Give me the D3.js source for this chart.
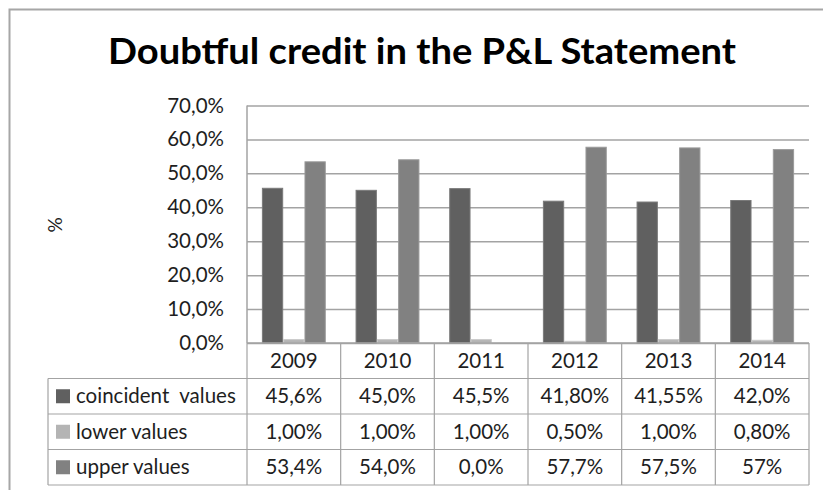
<!DOCTYPE html>
<html>
<head>
<meta charset="utf-8">
<script src="https://cdn.jsdelivr.net/npm/d3@7"></script>
<style>
  body { margin: 0; background: #fff; }
  text { font-family: Lato, "Open Sans", sans-serif; fill: #1e1e1e; }
</style>
</head>
<body>
<div id="chart"></div>
<script>
const years = ['2009', '2010', '2011', '2012', '2013', '2014'];
const seriesNames = ['coincident  values', 'lower values', 'upper values'];
const coincident = [45.6, 45.0, 45.5, 41.8, 41.55, 42.0];
const lower = [1.0, 1.0, 1.0, 0.5, 1.0, 0.8];
const upper = [53.4, 54.0, 0.0, 57.7, 57.5, 57.0];
const coincidentLabels = ['45,6%', '45,0%', '45,5%', '41,80%', '41,55%', '42,0%'];
const lowerLabels = ['1,00%', '1,00%', '1,00%', '0,50%', '1,00%', '0,80%'];
const upperLabels = ['53,4%', '54,0%', '0,0%', '57,7%', '57,5%', '57%'];
const yTicks = [0, 10, 20, 30, 40, 50, 60, 70];

const colors = ['#606060', '#b4b4b4', '#818181'];
const strokes = ['#7a7a7a', '#cacaca', '#9a9a9a'];

const width = 823;
const height = 490;
const plot = { left: 247, right: 809, top: 105.5, bottom: 343 };
const rowH = 35.5;
const tableLeft = 48;
const fontSize = 20.5;

const svg = d3.select('#chart')
  .append('svg')
  .attr('width', width)
  .attr('height', height);

// outer frame
svg.append('path')
  .attr('d', `M9.5,${height + 2} V9.5 H${width + 2}`)
  .attr('fill', 'none')
  .attr('stroke', '#a6a6a6')
  .attr('stroke-width', 2);

svg.append('text')
  .attr('x', 422)
  .attr('y', 64)
  .attr('text-anchor', 'middle')
  .attr('font-size', 36)
  .attr('font-weight', 'bold')
  .attr('textLength', 628)
  .attr('lengthAdjust', 'spacingAndGlyphs')
  .style('fill', '#000')
  .text('Doubtful credit in the P&L Statement');

const yScale = d3.scaleLinear()
  .domain([0, 70])
  .range([plot.bottom, plot.top]);

const xScale = d3.scaleBand()
  .domain(years)
  .range([plot.left, plot.right]);

const xInner = d3.scaleBand()
  .domain(d3.range(3))
  .range([0, xScale.bandwidth()])
  .paddingOuter(0.7);

// gridlines
svg.append('g')
  .attr('transform', `translate(${plot.left}, 0)`)
  .call(d3.axisLeft(yScale).tickValues(yTicks).tickFormat('').tickSize(-(plot.right - plot.left)))
  .call(g => g.select('.domain').remove())
  .call(g => g.selectAll('line').attr('stroke', '#a3a3a3').attr('stroke-width', 1.5));

// y labels
svg.append('g')
  .attr('transform', `translate(${plot.left}, 0)`)
  .call(d3.axisLeft(yScale).tickValues(yTicks).tickSize(0).tickPadding(23)
    .tickFormat(d => d3.format('.1f')(d).replace('.', ',') + '%'))
  .call(g => g.select('.domain').remove())
  .call(g => g.selectAll('text')
    .attr('font-size', fontSize)
    .attr('font-family', 'Lato, sans-serif')
    .style('fill', '#1e1e1e'));

svg.append('line')
  .attr('x1', plot.left).attr('x2', plot.left)
  .attr('y1', plot.top).attr('y2', plot.bottom)
  .attr('stroke', '#a3a3a3')
  .attr('stroke-width', 1.5);

svg.append('text')
  .attr('transform', 'translate(62, 225) rotate(-90)')
  .attr('text-anchor', 'middle')
  .attr('font-size', 19)
  .text('%');

// bars
const allSeries = [coincident, lower, upper];
const groups = svg.append('g').attr('class', 'bars')
  .selectAll('g')
  .data(years)
  .join('g')
  .attr('transform', d => `translate(${xScale(d)}, 0)`);

groups.selectAll('rect')
  .data((d, i) => allSeries.map((s, k) => ({ k, v: s[i] })))
  .join('rect')
  .attr('x', d => xInner(d.k) + 0.5)
  .attr('width', xInner.bandwidth() - 1)
  .attr('y', d => yScale(d.v))
  .attr('height', d => yScale(0) - yScale(d.v))
  .attr('fill', d => colors[d.k])
  .attr('stroke', d => strokes[d.k])
  .attr('stroke-width', d => d.v > 0 ? 1 : 0);

// data table
const table = svg.append('g').attr('class', 'table');
const gridColor = '#a3a3a3';
const tableTop = plot.bottom;
const tableBottom = tableTop + rowH * 4;

table.append('line')
  .attr('x1', plot.left).attr('x2', plot.right)
  .attr('y1', tableTop).attr('y2', tableTop)
  .attr('stroke', gridColor).attr('stroke-width', 1.5);

d3.range(1, 5).forEach(r => {
  table.append('line')
    .attr('x1', tableLeft).attr('x2', plot.right)
    .attr('y1', tableTop + r * rowH).attr('y2', tableTop + r * rowH)
    .attr('stroke', gridColor).attr('stroke-width', 1.2);
});

years.concat(['end']).forEach((y, i) => {
  const x = i < years.length ? xScale(y) : plot.right;
  table.append('line')
    .attr('x1', x).attr('x2', x)
    .attr('y1', tableTop).attr('y2', tableBottom)
    .attr('stroke', gridColor).attr('stroke-width', 1.2);
});

table.append('line')
  .attr('x1', tableLeft).attr('x2', tableLeft)
  .attr('y1', tableTop + rowH).attr('y2', tableBottom)
  .attr('stroke', gridColor).attr('stroke-width', 1.2);

table.selectAll('.year')
  .data(years)
  .join('text')
  .attr('class', 'year')
  .attr('x', d => xScale(d) + xScale.bandwidth() / 2)
  .attr('y', tableTop + rowH / 2)
  .attr('dy', '0.35em')
  .attr('text-anchor', 'middle')
  .attr('font-size', fontSize)
  .text(d => d);

const rowLabels = [coincidentLabels, lowerLabels, upperLabels];
rowLabels.forEach((labels, r) => {
  const cy = tableTop + rowH * (r + 1) + rowH / 2;
  table.append('rect')
    .attr('x', 56)
    .attr('y', cy - 7)
    .attr('width', 14)
    .attr('height', 14)
    .attr('fill', colors[r]);
  table.append('text')
    .attr('x', 76)
    .attr('y', cy)
    .attr('dy', '0.35em')
    .attr('font-size', fontSize)
    .style('white-space', 'pre')
    .text(seriesNames[r]);
  table.selectAll(null)
    .data(labels)
    .join('text')
    .attr('x', (d, i) => xScale(years[i]) + xScale.bandwidth() / 2)
    .attr('y', cy)
    .attr('dy', '0.35em')
    .attr('text-anchor', 'middle')
    .attr('font-size', fontSize)
    .text(d => d);
});
</script>
</body>
</html>
